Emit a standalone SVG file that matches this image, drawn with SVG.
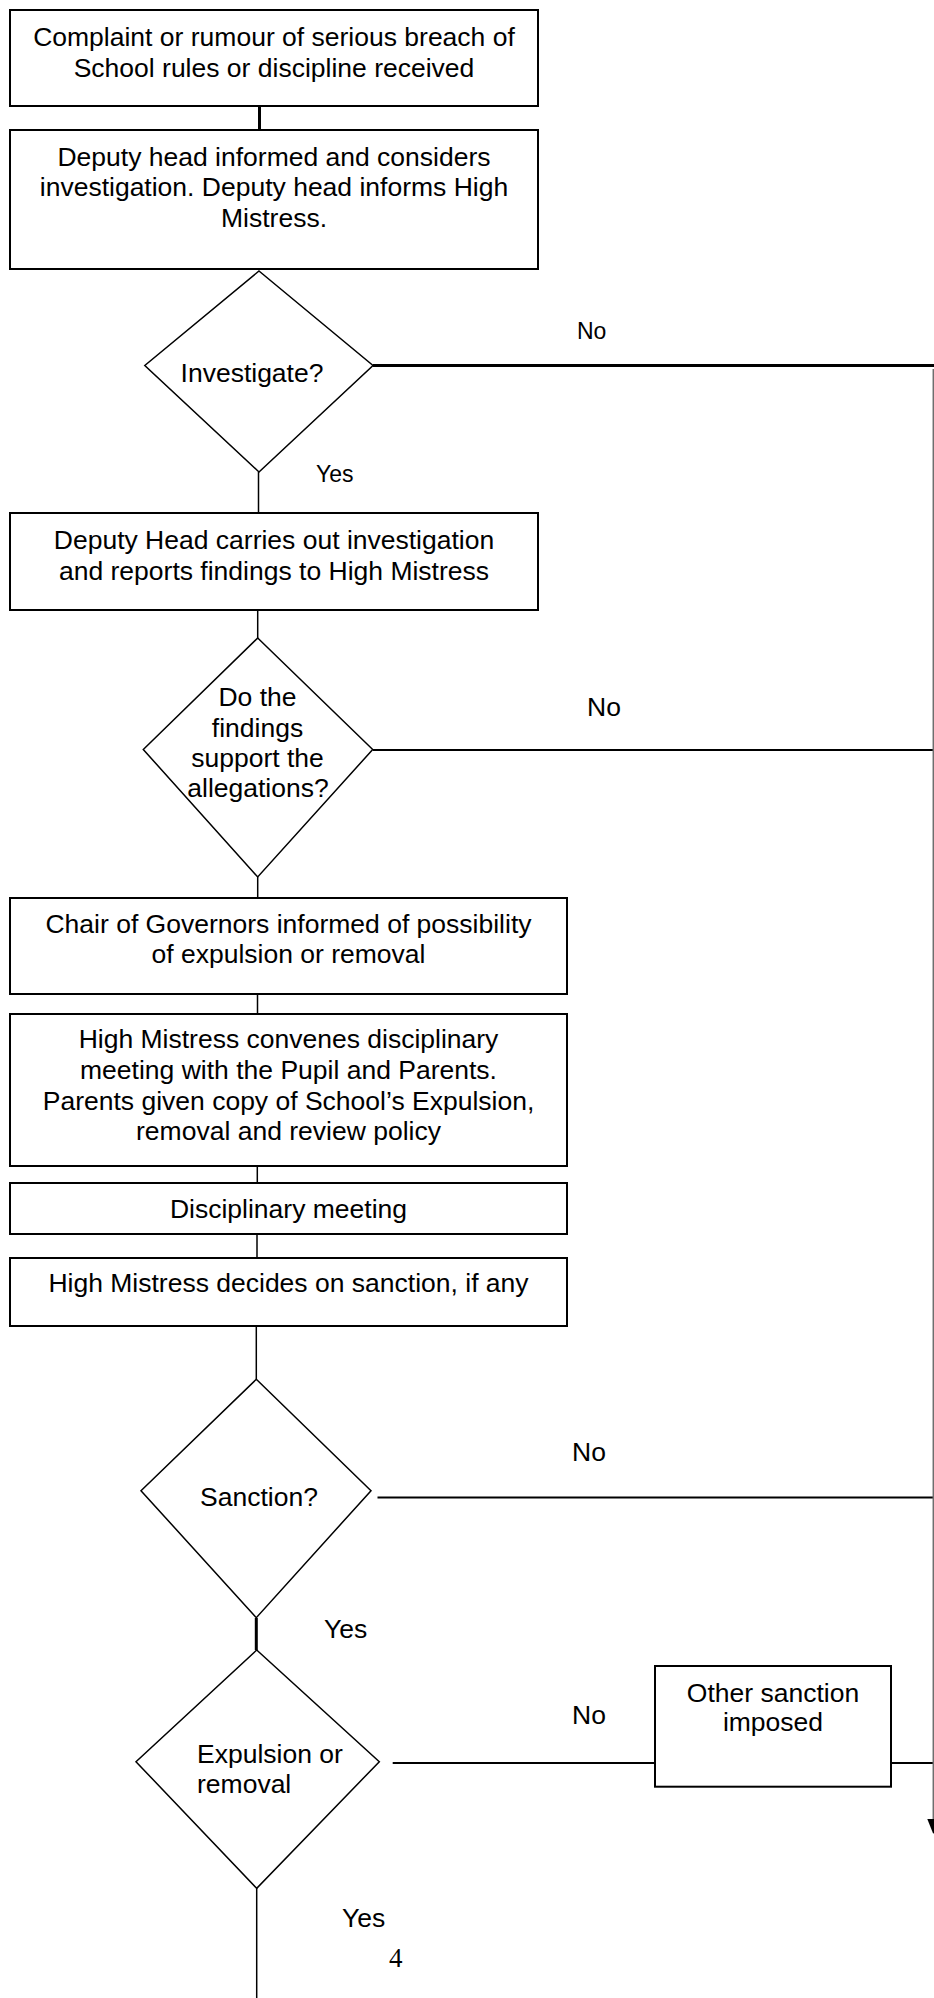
<svg xmlns="http://www.w3.org/2000/svg" width="934" height="1998" viewBox="0 0 934 1998">
<style>
.bx{fill:#fff;stroke:#000;stroke-width:2}
.dm{fill:#fff;stroke:#000;stroke-width:1.5}
.t{font-family:"Liberation Sans",Arial,sans-serif;font-size:26.5px;fill:#000}
.c{text-anchor:middle}
.lb{font-family:"Liberation Sans",Arial,sans-serif;font-size:26.5px;fill:#000}
.sm{font-size:23px}
.ln{stroke:#000;stroke-width:1.5;fill:none}
.th{stroke-width:3}
.ed{stroke:#000;stroke-width:2;fill:none}
</style>
<rect width="934" height="1998" fill="#fff"/>
<g id="connectors">
<line class="ln th" x1="259.5" y1="106" x2="259.5" y2="130"/>
<line class="ln" x1="258.5" y1="472" x2="258.5" y2="513"/>
<line class="ln" x1="257.7" y1="610" x2="257.7" y2="638"/>
<line class="ln" x1="257.7" y1="877" x2="257.7" y2="898"/>
<line class="ln" x1="257.5" y1="994" x2="257.5" y2="1014"/>
<line class="ln" x1="257.3" y1="1166" x2="257.3" y2="1183"/>
<line class="ln" x1="257" y1="1234" x2="257" y2="1258"/>
<line class="ln" x1="256.3" y1="1326" x2="256.3" y2="1379"/>
<line class="ln th" x1="256.3" y1="1618" x2="256.3" y2="1650"/>
<line class="ln" x1="256.7" y1="1888" x2="256.7" y2="1998"/>
<line class="ln th" x1="373" y1="365.5" x2="934" y2="365.5"/>
<line class="ed" x1="373" y1="750" x2="934" y2="750"/>
<line class="ed" x1="377.5" y1="1497.5" x2="934" y2="1497.5"/>
<line class="ed" x1="392.7" y1="1763" x2="655" y2="1763"/>
<line class="ed" x1="891" y1="1763" x2="934" y2="1763"/>
<line x1="933.3" y1="369" x2="933.3" y2="1822" stroke="#6e6e6e" stroke-width="1.5"/>
<polygon points="927.3,1819 939.3,1819 933.3,1834" fill="#000"/>
</g>
<g id="n1"><rect class="bx" x="10" y="10" width="528" height="96"/>
<text class="t c" x="274" y="45.5">Complaint or rumour of serious breach of</text>
<text class="t c" x="274" y="76.5">School rules or discipline received</text></g>
<g id="n2"><rect class="bx" x="10" y="130" width="528" height="139"/>
<text class="t c" x="274" y="165.5">Deputy head informed and considers</text>
<text class="t c" x="274" y="196">investigation. Deputy head informs High</text>
<text class="t c" x="274" y="226.5">Mistress.</text></g>
<g id="d1"><polygon class="dm" points="259,271 373,365.5 259,472 144.8,365.5"/>
<text class="t c" x="252" y="382">Investigate?</text></g>
<g id="n3"><rect class="bx" x="10" y="513" width="528" height="97"/>
<text class="t c" x="274" y="548.5">Deputy Head carries out investigation</text>
<text class="t c" x="274" y="579.5">and reports findings to High Mistress</text></g>
<g id="d2"><polygon class="dm" points="257.7,638 372.7,749.5 257.7,877 143.3,749.5"/>
<text class="t c" x="257.5" y="706">Do the</text>
<text class="t c" x="257.5" y="736.5">findings</text>
<text class="t c" x="257.5" y="767">support the</text>
<text class="t c" x="258" y="797">allegations?</text></g>
<g id="n4"><rect class="bx" x="10" y="898" width="557" height="96"/>
<text class="t c" x="288.5" y="933">Chair of Governors informed of possibility</text>
<text class="t c" x="288.5" y="963">of expulsion or removal</text></g>
<g id="n5"><rect class="bx" x="10" y="1014" width="557" height="152"/>
<text class="t c" x="288.5" y="1047.5">High Mistress convenes disciplinary</text>
<text class="t c" x="288.5" y="1078.5">meeting with the Pupil and Parents.</text>
<text class="t c" x="288.5" y="1109.5">Parents given copy of School’s Expulsion,</text>
<text class="t c" x="288.5" y="1140">removal and review policy</text></g>
<g id="n6"><rect class="bx" x="10" y="1183" width="557" height="51"/>
<text class="t c" x="288.5" y="1218">Disciplinary meeting</text></g>
<g id="n7"><rect class="bx" x="10" y="1258" width="557" height="68"/>
<text class="t c" x="288.5" y="1291.5">High Mistress decides on sanction, if any</text></g>
<g id="d3"><polygon class="dm" points="256.3,1379.3 371,1490.7 256.3,1617.7 141,1490.7"/>
<text class="t c" x="259" y="1505.5">Sanction?</text></g>
<g id="d4"><polygon class="dm" points="256.7,1650 379.3,1761.7 256.7,1888.3 136,1761.7"/>
<text class="t" x="197" y="1763.3">Expulsion or</text>
<text class="t" x="197" y="1793.3">removal</text></g>
<g id="n8"><rect class="bx" x="655" y="1666" width="236" height="120.7"/>
<text class="t c" x="773" y="1701.5">Other sanction</text>
<text class="t c" x="773" y="1731">imposed</text></g>
<g id="labels">
<text class="lb sm" x="577" y="339">No</text>
<text class="lb sm" x="316" y="481.5">Yes</text>
<text class="lb" x="587" y="716">No</text>
<text class="lb" x="572" y="1461">No</text>
<text class="lb" x="324" y="1638">Yes</text>
<text class="lb" x="572" y="1724">No</text>
<text class="lb" x="342" y="1927">Yes</text>
<text x="389" y="1967" font-family="'Liberation Serif','Times New Roman',serif" font-size="27">4</text>
</g>
</svg>
